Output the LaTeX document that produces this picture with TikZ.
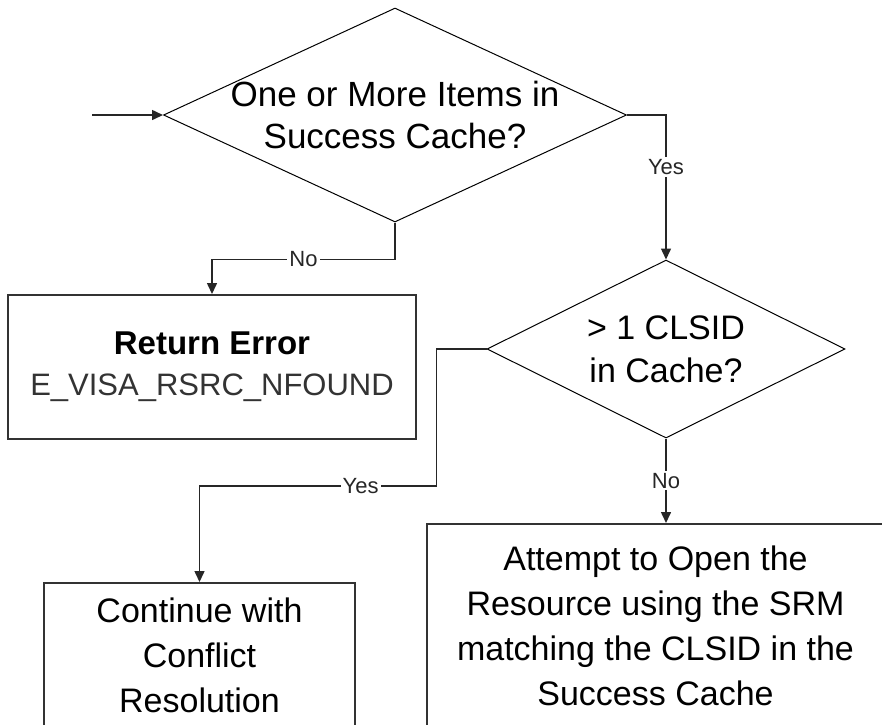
\documentclass[tikz,border=0pt]{standalone}
\usepackage{fontspec}
\setmainfont{Liberation Sans}
\usetikzlibrary{shapes.geometric,arrows.meta}
\begin{document}
\begin{tikzpicture}[>={Triangle[length=11pt,width=10pt]}, x=1pt, y=-1pt,
  decision/.style={diamond, draw, line width=1pt, inner sep=0pt},
  block/.style={rectangle, draw=black!80, line width=2pt, inner sep=0pt, align=center},
  flow/.style={->, line width=1.5pt, black!85},
  answer/.style={fill=white, inner sep=2pt, font=\fontsize{22}{24}\selectfont}]
  \clip (0,0) rectangle (882,724);
  % decisions
  \node[decision, minimum width=463pt, minimum height=214pt,
    label={[align=center, font=\fontsize{35}{42}\selectfont]center:One or More Items in\\Success Cache?}]
    (cache) at (395,115) {};
  \node[decision, minimum width=358pt, minimum height=178pt,
    label={[align=center, font=\fontsize{34}{43}\selectfont]center:> 1 CLSID\\in Cache?}]
    (clsid) at (666,349) {};
  % boxes
  \node[block, minimum width=408pt, minimum height=144pt, font=\fontsize{33}{41}\selectfont]
    (error) at (212,367)
    {\bfseries Return Error\\
     \fontsize{31}{41}\selectfont\color{black!80}E\_VISA\_RSRC\_NFOUND};
  \node[block, minimum width=311pt, minimum height=144pt, font=\fontsize{34}{45}\selectfont]
    (conflict) at (199.5,655) {Continue with\\Conflict\\Resolution};
  \node[block, minimum width=457pt, minimum height=203pt, font=\fontsize{34}{45}\selectfont]
    (attempt) at (655.5,625.5) {Attempt to Open the\\Resource using the SRM\\matching the CLSID in the\\Success Cache};
  \coordinate (entry) at (92,115);
  % connectors
  \draw[flow] (entry) -- (cache.west);
  \draw[flow] (cache.east) -| node[answer, pos=0.68]{Yes} (clsid.north);
  \draw[flow] (cache.south) -- ++(0,37) -| node[answer, pos=0.25]{No} (error.north);
  \draw[flow] (clsid.west) -| ++(-50,137) -| node[answer, pos=0.16]{Yes} (conflict.north);
  \draw[flow] (clsid.south) -- node[answer]{No} (clsid.south |- attempt.north);
\end{tikzpicture}
\end{document}
